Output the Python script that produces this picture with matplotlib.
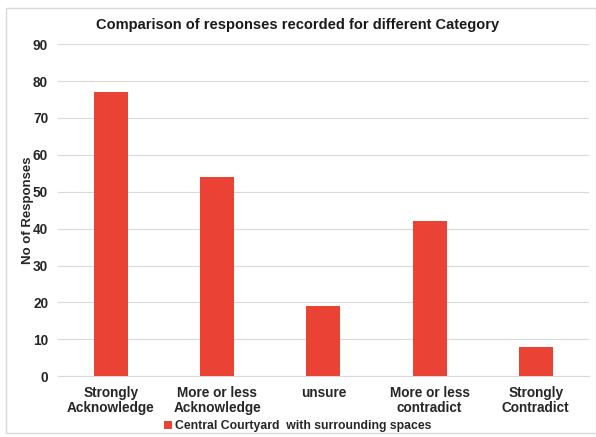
import matplotlib.pyplot as plt
from matplotlib.patches import Rectangle

plt.rcParams['font.family'] = ['Liberation Sans', 'DejaVu Sans']

# Responses per category
kategori = ["Strongly\nAcknowledge", "More or less\nAcknowledge", "unsure",
            "More or less\ncontradict", "Strongly\nContradict"]
jumlah = [77, 54, 19, 42, 8]
seri = "Central Courtyard  with surrounding spaces"

fig = plt.figure(figsize=(5.96, 4.37), dpi=100)
ax = fig.add_axes([0.097, 0.139, 0.891, 0.760])

ax.bar(range(len(kategori)), jumlah, width=0.32, color='#EA4335', label=seri, zorder=3)

ax.set_ylim(0, 90)
ax.set_yticks(range(0, 91, 10))
ax.set_xlim(-0.5, len(kategori) - 0.5)
ax.set_xticks(range(len(kategori)))
ax.set_xticklabels(kategori, fontsize=9.8, fontweight='bold', color='#262626',
                   linespacing=1.05)
for lbl in ax.get_yticklabels():
    lbl.set_fontsize(9.8)
    lbl.set_fontweight('bold')
    lbl.set_color('#262626')
ax.tick_params(length=0, pad=7)
ax.tick_params(axis='y', pad=7)
ax.grid(axis='y', color='#D9D9D9', linewidth=0.8, zorder=0)
for s in ['top', 'right', 'left']:
    ax.spines[s].set_visible(False)
ax.spines['bottom'].set_color('#D9D9D9')

ax.set_ylabel("No of Responses", fontsize=9.5, fontweight='bold', color='#262626')
ax.yaxis.set_label_coords(-0.045, 0.5)
fig.text(0.5, 0.943, "Comparison of responses recorded for different Category",
         ha='center', va='center', fontsize=10.5, fontweight='bold', color='#1a1a1a')

leg = fig.legend(loc='center', bbox_to_anchor=(0.5, 0.025), frameon=False,
                 handlelength=0.6, handleheight=0.6, handletextpad=0.3,
                 prop={'size': 8.8, 'weight': 'bold'})
for t in leg.get_texts():
    t.set_color('#262626')

# thin frame around the chart
fig.patches.append(Rectangle((0.01, 0.01), 0.99, 0.972, transform=fig.transFigure,
                             fill=False, edgecolor='#D9D9D9', linewidth=1))

plt.savefig("out.png", dpi=100)
